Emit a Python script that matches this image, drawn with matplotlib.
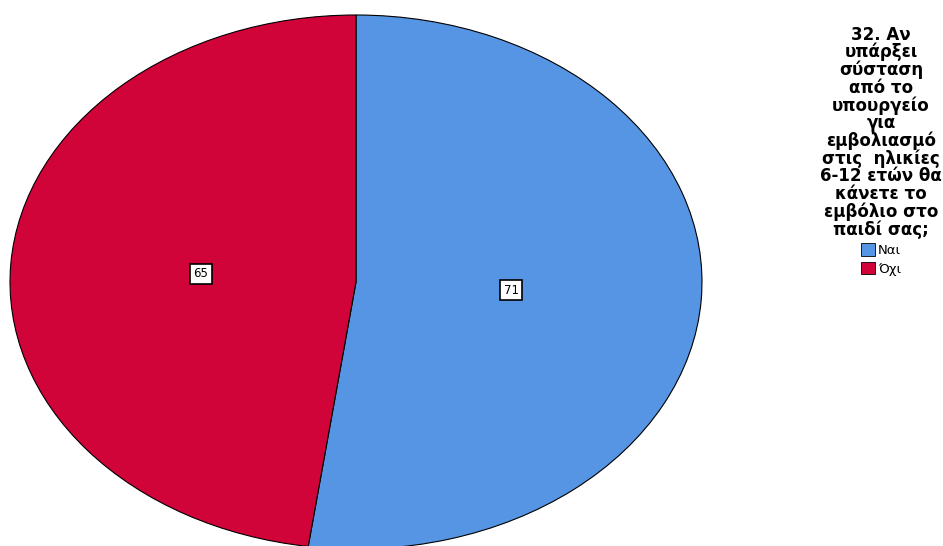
import matplotlib
matplotlib.use("Agg")
import matplotlib.pyplot as plt
from matplotlib.patches import Patch

categories = ["Ναι", "Όχι"]
values = [71, 65]
colors = ["#5595E3", "#D1043A"]
title = ("32. Αν\nυπάρξει\nσύσταση\nαπό το\nυπουργείο\nγια\nεμβολιασμό\n"
         "στις  ηλικίες\n6-12 ετών θα\nκάνετε το\nεμβόλιο στο\nπαιδί σας;")

plt.rcParams['font.family'] = ['DejaVu Sans']
fig = plt.figure(figsize=(9.43, 5.46), dpi=100)
ax = fig.add_axes([10/943, -3/546, 692/943, 534/546])
wedges, texts = ax.pie(values, colors=colors, startangle=90, counterclock=False,
                       labels=[str(v) for v in values], labeldistance=0.45,
                       wedgeprops=dict(edgecolor='black', linewidth=0.8),
                       textprops=dict(fontsize=8.5, ha='center', va='center'))
for t in texts:
    t.set_bbox(dict(facecolor='white', edgecolor='black', linewidth=1.2, pad=2.5))
ax.set_aspect('auto')
ax.set_xlim(-1.0, 1.0)
ax.set_ylim(-1.0, 1.0)
ax.axis('off')

handles = [Patch(facecolor=c, edgecolor='black', linewidth=0.6) for c in colors]
leg = fig.legend(handles, categories, title=title, loc='upper center',
                 bbox_to_anchor=(881/943, 1 - 15/546), frameon=False,
                 fontsize=9.5, handlelength=1.1, handleheight=1.1, handletextpad=0.2,
                 labelspacing=0.35, borderpad=0.3,
                 title_fontproperties=dict(weight='bold', size=12))
leg.get_title().set_linespacing(0.96)
leg.get_title().set_ha('center')
leg._legend_box.align = 'center'
fig.savefig('out.png', dpi=100)
